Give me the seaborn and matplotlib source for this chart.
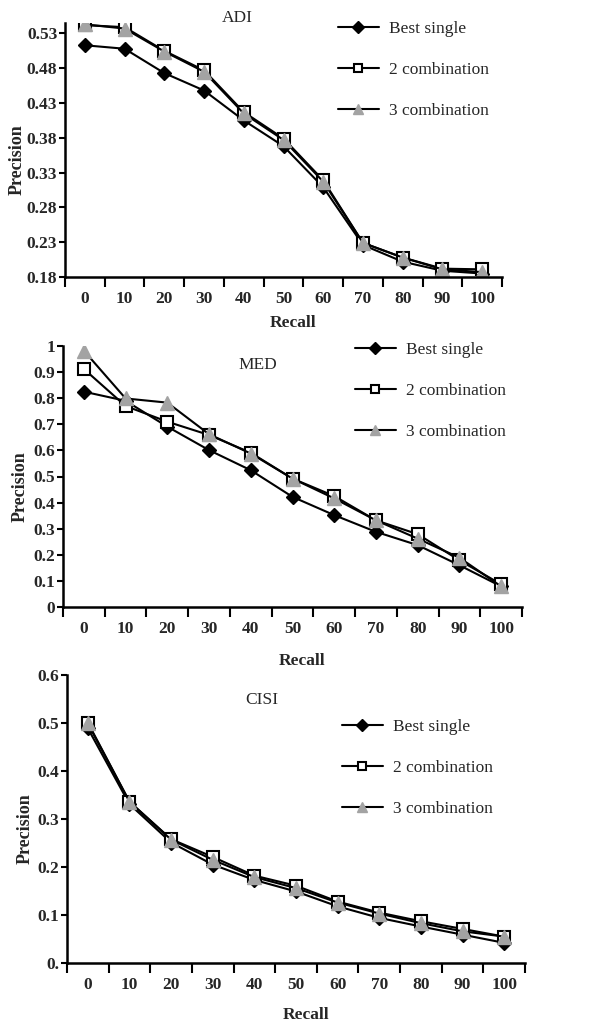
import numpy as np
import pandas as pd
import matplotlib
matplotlib.use("Agg")
import matplotlib.pyplot as plt
import seaborn as sns

# ---------------- data ----------------
recall = [0, 10, 20, 30, 40, 50, 60, 70, 80, 90, 100]
recall_labels = ["0", "10", "20", "30", "40", "50", "60", "70", "80", "90", "100"]
series_names = ["Best single", "2 combination", "3 combination"]

adi_best = [0.513, 0.508, 0.473, 0.448, 0.405, 0.368, 0.309, 0.226, 0.202, 0.189, 0.185]
adi_comb2 = [0.542, 0.539, 0.505, 0.477, 0.417, 0.379, 0.319, 0.229, 0.208, 0.192, 0.191]
adi_comb3 = [0.543, 0.537, 0.504, 0.475, 0.415, 0.377, 0.317, 0.229, 0.208, 0.191, 0.187]

med_best = [0.825, 0.790, 0.691, 0.601, 0.524, 0.422, 0.352, 0.288, 0.237, 0.160, 0.079]
med_comb2 = [0.912, 0.770, 0.710, 0.659, 0.591, 0.492, 0.425, 0.332, 0.279, 0.179, 0.087]
med_comb3 = [0.982, 0.799, 0.783, 0.662, 0.588, 0.492, 0.416, 0.332, 0.262, 0.189, 0.079]

cisi_best = [0.489, 0.331, 0.251, 0.205, 0.173, 0.149, 0.118, 0.094, 0.076, 0.059, 0.042]
cisi_comb2 = [0.501, 0.336, 0.258, 0.221, 0.182, 0.161, 0.128, 0.105, 0.087, 0.071, 0.055]
cisi_comb3 = [0.499, 0.336, 0.257, 0.215, 0.179, 0.156, 0.126, 0.103, 0.083, 0.066, 0.055]

adi_yticks = [0.18, 0.23, 0.28, 0.33, 0.38, 0.43, 0.48, 0.53]
adi_ylabels = ["0.18", "0.23", "0.28", "0.33", "0.38", "0.43", "0.48", "0.53"]
med_yticks = [0, 0.1, 0.2, 0.3, 0.4, 0.5, 0.6, 0.7, 0.8, 0.9, 1.0]
med_ylabels = ["0", "0.1", "0.2", "0.3", "0.4", "0.5", "0.6", "0.7", "0.8", "0.9", "1"]
cisi_yticks = [0, 0.1, 0.2, 0.3, 0.4, 0.5, 0.6]
cisi_ylabels = ["0.", "0.1", "0.2", "0.3", "0.4", "0.5", "0.6"]

# ---------------- style ----------------
sns.set_style("ticks")
plt.rcParams["font.family"] = ["Liberation Serif", "DejaVu Serif"]

W, H = 598, 1025
fig = plt.figure(figsize=(W / 100, H / 100), dpi=100)

marker_styles = [
    dict(marker="D", markersize=7.5, markerfacecolor="black", markeredgecolor="black", markeredgewidth=1.0),
    dict(marker="s", markersize=8, markerfacecolor="white", markeredgecolor="black", markeredgewidth=1.5),
    dict(marker="^", markersize=9.5, markerfacecolor="#a3a3a3", markeredgecolor="#a3a3a3", markeredgewidth=1.0),
]


def fx(px):
    return px / W


def fy(py):
    return 1 - py / H


panels = [
    dict(name="ADI", data=[adi_best, adi_comb2, adi_comb3], box=(65, 502, 23, 277),
         ylim=(0.18, 0.545), yticks=adi_yticks, ylabels=adi_ylabels,
         title_xy=(237, 18), xlabel_y=323, ylabel_x=17,
         leg_xy=(338, 21)),
    dict(name="MED", data=[med_best, med_comb2, med_comb3], box=(63, 522, 346, 607),
         ylim=(0.0, 1.0), yticks=med_yticks, ylabels=med_ylabels,
         title_xy=(258, 365), xlabel_y=661, ylabel_x=20,
         leg_xy=(355, 342)),
    dict(name="CISI", data=[cisi_best, cisi_comb2, cisi_comb3], box=(67, 525, 675, 963),
         ylim=(0.0, 0.6), yticks=cisi_yticks, ylabels=cisi_ylabels,
         title_xy=(262, 700), xlabel_y=1015, ylabel_x=25,
         leg_xy=(342, 719)),
]

for p in panels:
    l, r, t, b = p["box"]
    ax = fig.add_axes([fx(l), fy(b), (r - l) / W, (b - t) / H])
    for name, vals, ms in zip(series_names, p["data"], marker_styles):
        df = pd.DataFrame({"Recall": recall, "Precision": vals})
        sns.lineplot(data=df, x="Recall", y="Precision", ax=ax, color="black",
                     linewidth=1.5, label=name, **ms)
    ax.set_xlim(-5, 105)
    ax.set_ylim(*p["ylim"])
    # category boundaries as major ticks, labels at category centres
    ax.set_xticks(np.arange(-5, 106, 10))
    ax.set_xticklabels([])
    ax.set_xticks(recall, minor=True)
    ax.set_xticklabels(recall_labels, minor=True, fontsize=12.5, fontweight="bold")
    ax.tick_params(axis="x", which="major", direction="out", length=7, width=1.5, color="black")
    ax.tick_params(axis="x", which="minor", length=0, pad=10)
    ax.set_yticks(p["yticks"])
    ax.set_yticklabels(p["ylabels"], fontsize=12.5, fontweight="bold")
    ax.tick_params(axis="y", direction="out", length=4.5, width=1.5, pad=1, color="black")
    for s in ["top", "right"]:
        ax.spines[s].set_visible(False)
    for s in ["left", "bottom"]:
        ax.spines[s].set_linewidth(1.8)
        ax.spines[s].set_color("black")
    ax.set_xlabel("")
    ax.set_ylabel("")
    # axis labels
    fig.text(fx((l + r) / 2 + 10), fy(p["xlabel_y"]), "Recall", ha="center", va="center",
             fontsize=12.5, fontweight="bold")
    fig.text(fx(p["ylabel_x"]), fy((t + b) / 2 + 10), "Precision", ha="center", va="center",
             rotation=90, fontsize=13, fontweight="bold")
    fig.text(fx(p["title_xy"][0]), fy(p["title_xy"][1]), p["name"], ha="center", va="center",
             fontsize=12.5)
    leg = ax.legend(loc="upper left", bbox_to_anchor=(fx(p["leg_xy"][0]), fy(p["leg_xy"][1])),
                    bbox_transform=fig.transFigure, frameon=False, borderpad=0, borderaxespad=0,
                    handlelength=2.35, handletextpad=0.6, labelspacing=1.43, markerscale=0.8,
                    prop={"family": ["Liberation Serif"], "size": 12.5})

fig.savefig("out.png", dpi=100)
